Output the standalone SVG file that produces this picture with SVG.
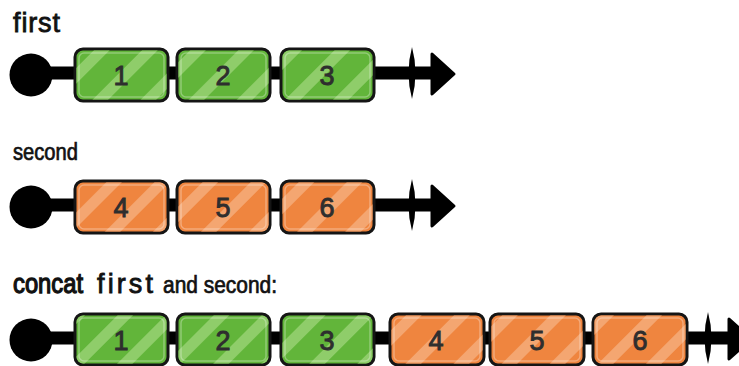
<svg xmlns="http://www.w3.org/2000/svg" width="739" height="366" viewBox="0 0 739 366">
  <style>
    .lbl { font-family: "Liberation Sans", "DejaVu Sans", sans-serif; font-size: 23px; fill: #111; stroke: #111; stroke-width: 0.7; }
    .mid { font-size: 27px; stroke-width: 0.8; }
    .big { font-size: 28px; stroke-width: 1.3; }
    .num { font-family: "Liberation Sans", "DejaVu Sans", sans-serif; font-size: 27px; fill: #2e2e2e; stroke: #2e2e2e; stroke-width: 0.9; text-anchor: middle; }
    .bx { stroke: #151515; stroke-width: 3; }
    .g { fill: #62b53a; }
    .o { fill: #ef853f; }
    .gs { fill: url(#gstripe); }
    .os { fill: url(#ostripe); }
    .hl { fill: none; stroke: #ffffff; stroke-opacity: 0.3; stroke-width: 1.5; }
    .line { stroke: #000; stroke-width: 13; fill: none; }
    .tick { fill: #000; }
    .head { fill: #000; stroke: #000; stroke-width: 3; stroke-linejoin: round; }
  </style>
  <defs>
    <pattern id="gstripe" patternUnits="userSpaceOnUse" width="34" height="34" patternTransform="rotate(45)">
      <rect x="0" y="0" width="11" height="34" fill="#8fcd6a"/>
    </pattern>
    <pattern id="ostripe" patternUnits="userSpaceOnUse" width="34" height="34" patternTransform="rotate(45)">
      <rect x="0" y="0" width="11" height="34" fill="#f4a671"/>
    </pattern>
  </defs>

  <!-- labels -->
  <text class="lbl mid" x="13" y="32" textLength="47" lengthAdjust="spacing">first</text>
  <text class="lbl" x="13" y="160" textLength="65" lengthAdjust="spacingAndGlyphs">second</text>
  <text class="lbl big" x="13" y="293" textLength="70" lengthAdjust="spacingAndGlyphs">concat</text>
  <text class="lbl mid" x="97" y="293" textLength="56" lengthAdjust="spacing">first</text>
  <text class="lbl" x="163" y="293" textLength="114" lengthAdjust="spacingAndGlyphs">and second:</text>

  <!-- connectors -->
  <g id="connectors">
    <line class="line" x1="32" y1="73" x2="440" y2="73"/>
    <line class="line" x1="32" y1="205" x2="440" y2="205"/>
    <line class="line" x1="32" y1="338" x2="739" y2="338"/>
  </g>

  <!-- row 1 -->
  <g id="start1"><circle cx="31" cy="75" r="21.5" fill="#000"/></g>
  <g id="end1">
    <path class="tick" d="M412,47 Q419,73 412,99 Q405,73 412,47 Z"/>
    <path class="head" d="M432,54 L454,74 L432,94 Z"/>
  </g>
  <g id="r1b1">
    <rect class="bx g" x="75" y="49" width="93" height="52" rx="8"/>
    <rect class="gs" x="76.5" y="50.5" width="90" height="49" rx="7"/>
    <rect class="hl" x="79" y="53" width="85" height="44" rx="5"/>
    <text class="num" x="121" y="85">1</text>
  </g>
  <g id="r1b2">
    <rect class="bx g" x="177" y="49" width="93" height="52" rx="8"/>
    <rect class="gs" x="178.5" y="50.5" width="90" height="49" rx="7"/>
    <rect class="hl" x="181" y="53" width="85" height="44" rx="5"/>
    <text class="num" x="223" y="85">2</text>
  </g>
  <g id="r1b3">
    <rect class="bx g" x="281" y="49" width="93" height="52" rx="8"/>
    <rect class="gs" x="282.5" y="50.5" width="90" height="49" rx="7"/>
    <rect class="hl" x="285" y="53" width="85" height="44" rx="5"/>
    <text class="num" x="327" y="85">3</text>
  </g>

  <!-- row 2 -->
  <g id="start2"><circle cx="31" cy="207" r="21.5" fill="#000"/></g>
  <g id="end2">
    <path class="tick" d="M412,179 Q419,205 412,231 Q405,205 412,179 Z"/>
    <path class="head" d="M432,186 L454,206 L432,226 Z"/>
  </g>
  <g id="r2b4">
    <rect class="bx o" x="75" y="181" width="93" height="52" rx="8"/>
    <rect class="os" x="76.5" y="182.5" width="90" height="49" rx="7"/>
    <rect class="hl" x="79" y="185" width="85" height="44" rx="5"/>
    <text class="num" x="121" y="217">4</text>
  </g>
  <g id="r2b5">
    <rect class="bx o" x="177" y="181" width="93" height="52" rx="8"/>
    <rect class="os" x="178.5" y="182.5" width="90" height="49" rx="7"/>
    <rect class="hl" x="181" y="185" width="85" height="44" rx="5"/>
    <text class="num" x="223" y="217">5</text>
  </g>
  <g id="r2b6">
    <rect class="bx o" x="281" y="181" width="93" height="52" rx="8"/>
    <rect class="os" x="282.5" y="182.5" width="90" height="49" rx="7"/>
    <rect class="hl" x="285" y="185" width="85" height="44" rx="5"/>
    <text class="num" x="327" y="217">6</text>
  </g>

  <!-- row 3 -->
  <g id="start3"><circle cx="31" cy="340" r="21.5" fill="#000"/></g>
  <g id="end3">
    <path class="tick" d="M708,312 Q715,338 708,364 Q701,338 708,312 Z"/>
    <path class="head" d="M729,319 L751,339 L729,359 Z"/>
  </g>
  <g id="r3b1">
    <rect class="bx g" x="75" y="314" width="93" height="51" rx="8"/>
    <rect class="gs" x="76.5" y="315.5" width="90" height="48" rx="7"/>
    <rect class="hl" x="79" y="318" width="85" height="43" rx="5"/>
    <text class="num" x="121" y="350">1</text>
  </g>
  <g id="r3b2">
    <rect class="bx g" x="177" y="314" width="93" height="51" rx="8"/>
    <rect class="gs" x="178.5" y="315.5" width="90" height="48" rx="7"/>
    <rect class="hl" x="181" y="318" width="85" height="43" rx="5"/>
    <text class="num" x="223" y="350">2</text>
  </g>
  <g id="r3b3">
    <rect class="bx g" x="281" y="314" width="93" height="51" rx="8"/>
    <rect class="gs" x="282.5" y="315.5" width="90" height="48" rx="7"/>
    <rect class="hl" x="285" y="318" width="85" height="43" rx="5"/>
    <text class="num" x="327" y="350">3</text>
  </g>
  <g id="r3b4">
    <rect class="bx o" x="390" y="314" width="94" height="51" rx="8"/>
    <rect class="os" x="391.5" y="315.5" width="91" height="48" rx="7"/>
    <rect class="hl" x="394" y="318" width="86" height="43" rx="5"/>
    <text class="num" x="436" y="350">4</text>
  </g>
  <g id="r3b5">
    <rect class="bx o" x="490" y="314" width="94" height="51" rx="8"/>
    <rect class="os" x="491.5" y="315.5" width="91" height="48" rx="7"/>
    <rect class="hl" x="494" y="318" width="86" height="43" rx="5"/>
    <text class="num" x="537" y="350">5</text>
  </g>
  <g id="r3b6">
    <rect class="bx o" x="593" y="314" width="94" height="51" rx="8"/>
    <rect class="os" x="594.5" y="315.5" width="91" height="48" rx="7"/>
    <rect class="hl" x="597" y="318" width="86" height="43" rx="5"/>
    <text class="num" x="640" y="350">6</text>
  </g>
</svg>
